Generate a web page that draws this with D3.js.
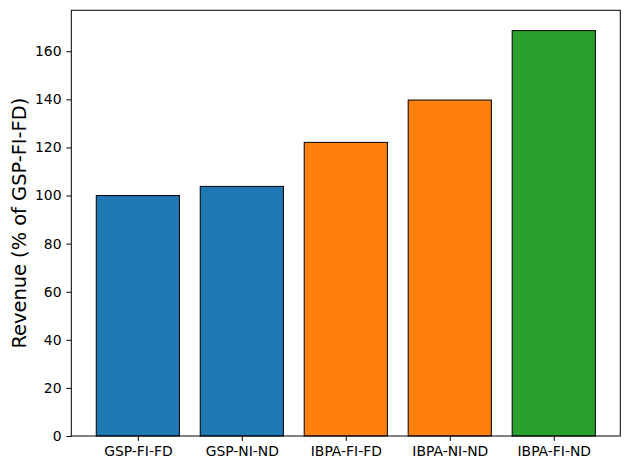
<html>
<head>
<script src="https://d3js.org/d3.v7.min.js"></script>
<style>
  body { margin: 0; background: #fff; }
  text { font-family: "DejaVu Sans", sans-serif; fill: #000; }
</style>
</head>
<body>
<svg id="chart" width="630" height="470"></svg>
<script>
var categories = ["GSP-FI-FD", "GSP-NI-ND", "IBPA-FI-FD", "IBPA-NI-ND", "IBPA-FI-ND"];
var revenue = [100, 103.8, 122.1, 139.7, 168.6];
var barColors = ["#1f77b4", "#1f77b4", "#ff7f0e", "#ff7f0e", "#2ca02c"];
var yTicks = [0, 20, 40, 60, 80, 100, 120, 140, 160];

var svg = d3.select("#chart");
var mLeft = 71.3, mRight = 620.3, mTop = 10.3, mBottom = 436;

var x = d3.scaleLinear()
    .domain([-0.64, categories.length - 1 + 0.64])
    .range([mLeft, mRight]);
var y = d3.scaleLinear()
    .domain([0, d3.max(revenue) * 1.05])
    .range([mBottom, mTop]);

var barW = 0.8;

svg.selectAll("rect.bar")
  .data(revenue)
  .enter()
  .append("rect")
    .attr("class", "bar")
    .attr("x", function(d, i) { return x(i - barW / 2); })
    .attr("width", function() { return x(barW) - x(0); })
    .attr("y", function(d) { return y(d); })
    .attr("height", function(d) { return y(0) - y(d); })
    .attr("fill", function(d, i) { return barColors[i]; })
    .attr("stroke", "#000")
    .attr("stroke-width", 1);

// axes
var yAxis = d3.axisLeft(y).tickValues(yTicks).tickSize(4.9).tickPadding(4.9);
var gy = svg.append("g").attr("transform", "translate(" + mLeft + ",0)").call(yAxis);
gy.select(".domain").remove();
gy.selectAll("text").style("font-size", "13.9px");
gy.selectAll("line").attr("stroke", "#000");

var xAxis = d3.axisBottom(x)
    .tickValues(d3.range(categories.length))
    .tickFormat(function(i) { return categories[i]; })
    .tickSize(4.9).tickPadding(4.9);
var gx = svg.append("g").attr("transform", "translate(0," + mBottom + ")").call(xAxis);
gx.select(".domain").remove();
gx.selectAll("text").style("font-size", "13.9px");
gx.selectAll("line").attr("stroke", "#000");

// frame
svg.append("rect")
  .attr("x", mLeft).attr("y", mTop)
  .attr("width", mRight - mLeft).attr("height", mBottom - mTop)
  .attr("fill", "none").attr("stroke", "#000").attr("stroke-width", 1);

svg.append("text")
  .attr("transform", "translate(26," + ((mTop + mBottom) / 2) + ") rotate(-90)")
  .attr("text-anchor", "middle")
  .style("font-size", "19.4px")
  .text("Revenue (% of GSP-FI-FD)");
</script>
</body>
</html>
